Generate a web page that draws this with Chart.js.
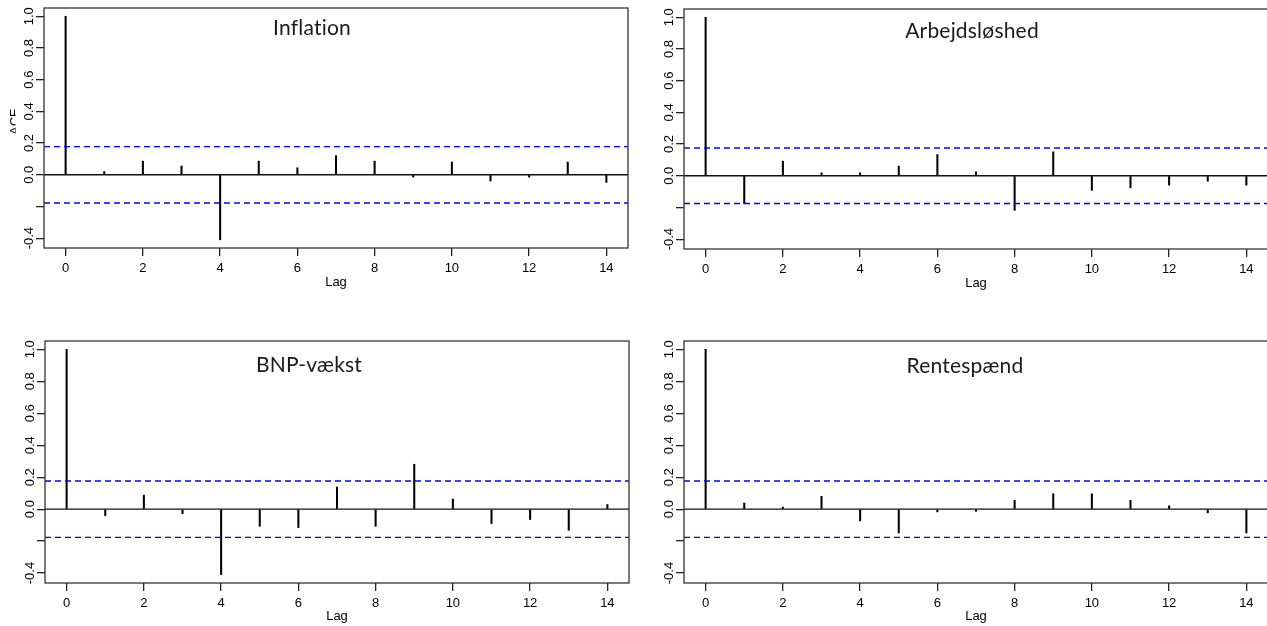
<!DOCTYPE html>
<html>
<head>
<meta charset="utf-8">
<script src="https://cdn.jsdelivr.net/npm/chart.js@4.4.1/dist/chart.umd.min.js"></script>
<style>
  html, body { margin: 0; padding: 0; background: #fff; width: 1267px; height: 626px; overflow: hidden; }
  canvas { position: absolute; }
</style>
</head>
<body>
<canvas id="c1" width="640" height="300" style="left:0px;top:0px"></canvas>
<canvas id="c2" width="640" height="300" style="left:640px;top:1px"></canvas>
<canvas id="c3" width="640" height="293" style="left:1px;top:333px"></canvas>
<canvas id="c4" width="640" height="293" style="left:640px;top:333px"></canvas>
<script>
// lags and acf values
var lags = [0, 1, 2, 3, 4, 5, 6, 7, 8, 9, 10, 11, 12, 13, 14];
var inflation = [1, 0.02, 0.086, 0.055, -0.41, 0.086, 0.044, 0.12, 0.086, -0.015, 0.08, -0.04, -0.015, 0.08, -0.048];
var arbejdsloshed = [1, -0.176, 0.092, 0.019, 0.019, 0.061, 0.134, 0.025, -0.218, 0.151, -0.092, -0.076, -0.059, -0.034, -0.059];
var bnpVaekst = [1, -0.04, 0.088, -0.029, -0.409, -0.107, -0.115, 0.138, -0.107, 0.281, 0.063, -0.09, -0.065, -0.132, 0.029];
var rentespaend = [1, 0.038, 0.013, 0.08, -0.073, -0.149, -0.017, -0.013, 0.055, 0.096, 0.096, 0.055, 0.021, -0.023, -0.149];
var ciLimits = [0.178, 0.175, 0.176, 0.176];
var titles = ['Inflation', 'Arbejdsløshed', 'BNP-vækst', 'Rentespænd'];

var xTicks = [0, 2, 4, 6, 8, 10, 12, 14];
var yTicks = [-0.4, -0.2, 0, 0.2, 0.4, 0.6, 0.8, 1.0];
var yLabels = ['-0.4', '', '0.0', '0.2', '0.4', '0.6', '0.8', '1.0'];
var xRange = [-0.56, 14.56];
var yRange = [-0.462, 1.052];

var axisFont = '"Liberation Sans", Arial, sans-serif';

// box, rotated y labels, panel title
var panelPlugin = {
	id: 'panel',
	afterDraw: function(chart, args, opts) {
		var ctx = chart.ctx;
		var a = chart.chartArea;
		var ys = chart.scales.y;
		ctx.save();
		ctx.strokeStyle = '#333';
		ctx.lineWidth = 1.3;
		ctx.strokeRect(a.left, a.top, a.right - a.left, a.bottom - a.top);

		ctx.fillStyle = '#000';
		ctx.font = '13px ' + axisFont;
		ctx.textAlign = 'center';
		ctx.textBaseline = 'alphabetic';
		for (var i = 0; i < yTicks.length; i++) {
			if (!yLabels[i]) continue;
			var py = ys.getPixelForValue(yTicks[i]);
			ctx.save();
			ctx.translate(a.left - 11, py);
			ctx.rotate(-Math.PI / 2);
			ctx.fillText(yLabels[i], 0, 0);
			ctx.restore();
		}

		if (opts.showAcf) {
			ctx.save();
			ctx.beginPath();
			ctx.rect(0, 0, 15.5, chart.height);
			ctx.clip();
			ctx.translate(18.5, (a.top + a.bottom) / 2 - 6);
			ctx.rotate(-Math.PI / 2);
			ctx.fillText('ACF', 0, 0);
			ctx.restore();
		}

		ctx.fillStyle = '#1a1a1a';
		ctx.font = '21px Lato, "Open Sans", sans-serif';
		ctx.letterSpacing = '0.2px';
		ctx.textAlign = 'center';
		ctx.textBaseline = 'middle';
		ctx.fillText(opts.title, opts.tx, opts.ty);
		ctx.restore();
	}
};

function makePanel(id, values, ci, title, tx, ty, axisHeight, lagPad, showAcf) {
	var bars = [];
	for (var i = 0; i < lags.length; i++) {
		bars.push({x: lags[i], y: values[i]});
	}
	var ctx = document.getElementById(id);
	return new Chart(ctx, {
		type: 'bar',
		data: {
			datasets: [
				{
					type: 'bar',
					data: bars,
					backgroundColor: '#000',
					barThickness: 1.4,
					order: 1
				},
				{
					type: 'line',
					data: [{x: xRange[0], y: 0}, {x: xRange[1], y: 0}],
					borderColor: '#111',
					borderWidth: 1.3,
					pointRadius: 0,
					order: 0
				},
				{
					type: 'line',
					data: [{x: xRange[0], y: ci}, {x: xRange[1], y: ci}],
					borderColor: '#0000ff',
					borderWidth: 1.3,
					borderDash: [6, 4],
					pointRadius: 0,
					order: 0
				},
				{
					type: 'line',
					data: [{x: xRange[0], y: -ci}, {x: xRange[1], y: -ci}],
					borderColor: '#0000ff',
					borderWidth: 1.3,
					borderDash: [6, 4],
					pointRadius: 0,
					order: 0
				}
			]
		},
		options: {
			responsive: false,
			animation: false,
			events: [],
			layout: { padding: { top: 8, right: 12, left: 0, bottom: 0 } },
			plugins: {
				legend: { display: false },
				tooltip: { enabled: false },
				panel: { title: title, tx: tx, ty: ty, showAcf: showAcf }
			},
			scales: {
				x: {
					type: 'linear',
					min: xRange[0],
					max: xRange[1],
					offset: false,
					afterBuildTicks: function(s) { s.ticks = xTicks.map(function(v) { return {value: v}; }); },
					afterFit: function(s) { s.height = axisHeight; },
					grid: { offset: false, drawOnChartArea: false, tickLength: 8, tickColor: '#222', lineWidth: 1.3 },
					border: { display: false },
					ticks: {
						autoSkip: false,
						maxRotation: 0,
						padding: 5,
						color: '#000',
						font: { family: axisFont, size: 13 },
						callback: function(v) { return String(v); }
					},
					title: {
						display: true,
						text: 'Lag',
						color: '#000',
						font: { family: axisFont, size: 13 },
						padding: { top: 0, bottom: lagPad }
					}
				},
				y: {
					min: yRange[0],
					max: yRange[1],
					afterBuildTicks: function(s) { s.ticks = yTicks.map(function(v) { return {value: v}; }); },
					afterFit: function(s) { s.width = 44; },
					grid: { drawOnChartArea: false, tickLength: 8, tickColor: '#222', lineWidth: 1.3 },
					border: { display: false },
					ticks: { display: false }
				}
			}
		},
		plugins: [panelPlugin]
	});
}

makePanel('c1', inflation, ciLimits[0], titles[0], 312, 28, 52, 10, true);
makePanel('c2', arbejdsloshed, ciLimits[1], titles[1], 332, 30, 52, 10, false);
makePanel('c3', bnpVaekst, ciLimits[2], titles[2], 308, 32, 43, 2, false);
makePanel('c4', rentespaend, ciLimits[3], titles[3], 325, 33, 43, 2, false);
</script>
</body>
</html>
